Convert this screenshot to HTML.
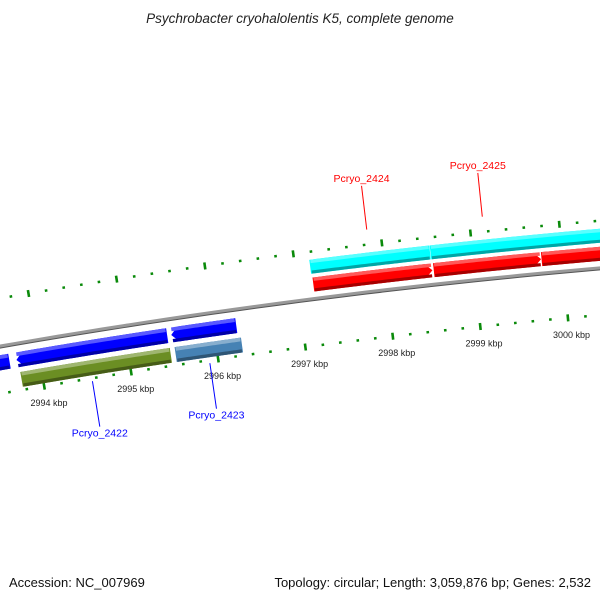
<!DOCTYPE html>
<html><head><meta charset="utf-8"><style>
body{margin:0;background:#fff;}
svg{display:block;font-family:"Liberation Sans","DejaVu Sans",sans-serif;}
</style></head><body>
<svg id="map" width="600" height="600" viewBox="0 0 600 600">
<text x="300" y="23" text-anchor="middle" font-size="13.5" font-style="italic" fill="#222">Psychrobacter cryohalolentis K5, complete genome</text>
<g id="layer"></g>
<text x="9" y="587" font-size="13" fill="#111">Accession: NC_007969</text>
<text x="591" y="587" text-anchor="end" font-size="13" fill="#111">Topology: circular; Length: 3,059,876 bp; Genes: 2,532</text>
</svg>
<script>
// data
const tickStartKbp = 2993;
const tickEndKbp = 3001;
const tickStepKbp = 0.2;
const tickLabels = ["2994 kbp","2995 kbp","2996 kbp","2997 kbp","2998 kbp","2999 kbp","3000 kbp"];
const tickLabelKbp = [2994,2995,2996,2997,2998,2999,3000];
const featNames = ["gene-left-partial","gene-pcryo-2422","gene-pcryo-2423-blue","cds-pcryo-2422","cds-pcryo-2423","gene-pcryo-2424-cyan","gene-pcryo-2425-cyan","gene-pcryo-2424","gene-pcryo-2425","gene-right-partial"];
const featStart = [2992.5, 2993.74, 2995.513, 2993.76, 2995.53, 2997.17, 2998.53, 2997.18, 2998.545, 2999.765];
const featEnd   = [2993.66, 2995.467, 2996.256, 2995.475, 2996.29, 2998.525, 3001.5, 2998.53, 2999.76, 3001.5];
const featStrand = [-1,-1,-1,0,0,0,0,1,1,1];
const featTrack = [-1,-1,-1,-2,-2,2,2,1,1,1];
const featColor = ["#0000ff","#0000ff","#0000ff","#6b8e23","#4682b4","#00ffff","#00ffff","#ff0000","#ff0000","#ff0000"];
const labelText = ["Pcryo_2422","Pcryo_2423","Pcryo_2424","Pcryo_2425"];
const labelKbp = [2994.55, 2995.9, 2997.85, 2999.15];
const labelTrack = [-2,-2,2,2];
const labelColor = ["#0000ff","#0000ff","#ff0000","#ff0000"];

// geometry
const CX=1200, CY=7212, R=6970;
const NS="http://www.w3.org/2000/svg";
const layer=document.getElementById('layer');
function ang(k){return -0.15502+(k-2995)*0.012718;}
function P(k,r){const a=ang(k);return [CX+r*Math.sin(a), CY-r*Math.cos(a)];}
function mk(tag,attrs){const e=document.createElementNS(NS,tag);for(const a in attrs)e.setAttribute(a,attrs[a]);layer.appendChild(e);return e;}
function trackR(t){return t===1?[R+7,R+21]:t===2?[R+25,R+39]:t===-1?[R-24,R-9]:[R-44,R-29];}
function arcPts(k1,k2,r){const pts=[];const n=40;for(let i=0;i<=n;i++){pts.push(P(k1+(k2-k1)*i/n,r));}return pts;}
function band(k1,k2,ri,ro,strand){
  const head=0.08;let a=k1,b=k2;
  if(strand===1)b=k2-head; if(strand===-1)a=k1+head;
  let pts=arcPts(a,b,ro);
  if(strand===1)pts.push(P(k2,(ri+ro)/2));
  pts=pts.concat(arcPts(a,b,ri).reverse());
  if(strand===-1)pts.push(P(k1,(ri+ro)/2));
  return pts.map(p=>p[0].toFixed(2)+","+p[1].toFixed(2)).join(" ");
}
function shade(c,f){const n=parseInt(c.slice(1),16);let r=n>>16,g=(n>>8)&255,b=n&255;
  if(f>0){r+= (255-r)*f;g+=(255-g)*f;b+=(255-b)*f;}else{r*=1+f;g*=1+f;b*=1+f;}
  return "rgb("+Math.round(r)+","+Math.round(g)+","+Math.round(b)+")";}

// backbone
const bb=arcPts(2992,3002,R).map(p=>p.join(",")).join(" ");
let e=mk('polyline',{points:arcPts(2992,3002,R-1.5).map(p=>p.join(",")).join(" "),fill:"none",stroke:"#555","stroke-width":2});


e=mk('polyline',{points:bb,fill:"none",stroke:"#999","stroke-width":3});



// ticks
for(let k=tickStartKbp;k<=tickEndKbp+1e-6;k+=tickStepKbp){
  const major=Math.abs(k-Math.round(k))<1e-6;
  const len=major?7:2.5;
  [R+47,R-47].forEach((r,i)=>{
    const p1=P(k,r-len/2),p2=P(k,r+len/2);
    const t=mk('line',{x1:p1[0],y1:p1[1],x2:p2[0],y2:p2[1],stroke:"#0a8a0a","stroke-width":2.6});
    
    
  });
}
tickLabels.forEach((s,i)=>{
  const p=P(tickLabelKbp[i],R-64);
  const t=mk('text',{x:p[0]+2,y:p[1]+3,'text-anchor':'middle','font-size':'9',fill:'#222'});
  t.textContent=s;
  
  
});

// features
featNames.forEach((nm,i)=>{
  const [ri,ro]=trackR(featTrack[i]);
  const g=mk('polygon',{points:band(featStart[i],featEnd[i],ri,ro,featStrand[i]),fill:featColor[i]});
  
  
  const h=(ro-ri);
  const hi=mk('polygon',{points:band(featStart[i]+0.01,featEnd[i]-0.01,ro-h*0.25,ro,0),fill:shade(featColor[i],0.35)});
  
  
  const lo=mk('polygon',{points:band(featStart[i]+0.01,featEnd[i]-0.01,ri,ri+h*0.22,0),fill:shade(featColor[i],-0.35)});
  
  
});

// gene labels
labelText.forEach((s,i)=>{
  const out=labelTrack[i]>0;
  const rs=out?R+62:R-50, re=out?R+106:R-96;
  const p1=P(labelKbp[i],rs),p2=P(labelKbp[i],re);
  const l=mk('line',{x1:p1[0],y1:p1[1],x2:p2[0],y2:p2[1],stroke:labelColor[i],"stroke-width":1});
  
  
  const t=mk('text',{x:p2[0],y:out?p2[1]-4:p2[1]+10,'text-anchor':'middle','font-size':'10.5',fill:labelColor[i]});
  t.textContent=s;
  
  
});
</script>
</body></html>
